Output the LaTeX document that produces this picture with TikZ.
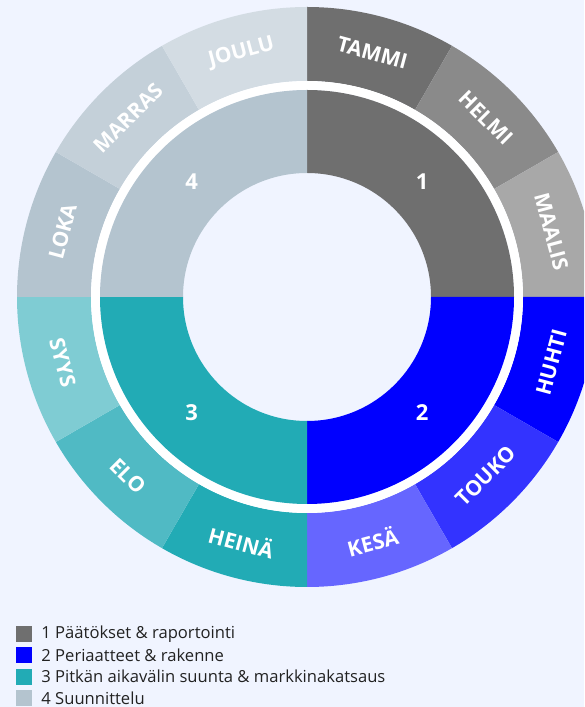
\documentclass[tikz,border=0pt]{standalone}
\usepackage{fontspec}
\setmainfont{Open Sans}
\usetikzlibrary{positioning,calc}

\definecolor{bgc}{HTML}{F0F4FF}
\definecolor{legc}{HTML}{222222}
\definecolor{q1}{HTML}{6F6F6F}
\definecolor{helmi}{HTML}{8A8A8A}
\definecolor{maalis}{HTML}{A8A8A8}
\definecolor{q2}{HTML}{0000FF}
\definecolor{touko}{HTML}{3333FF}
\definecolor{kesa}{HTML}{6666FF}
\definecolor{q3}{HTML}{22ABB5}
\definecolor{elo}{HTML}{50BAC4}
\definecolor{syys}{HTML}{7FCCD3}
\definecolor{q4}{HTML}{B4C4CF}
\definecolor{marras}{HTML}{C4D0D9}
\definecolor{joulu}{HTML}{D3DCE3}

\begin{document}
\begin{tikzpicture}[x=1pt, y=1pt,
  month/.style={text=white, font=\bfseries\fontsize{21}{21}\selectfont, inner sep=0pt},
  quarter/.style={text=white, font=\bfseries\fontsize{22}{22}\selectfont, inner sep=0pt},
  legbox/.style={minimum size=16pt, inner sep=0pt},
  legtext/.style={font=\fontsize{16.6}{17}\selectfont, text=legc, inner sep=0pt}]

\useasboundingbox (0,0) rectangle (584,707);
\fill[bgc] (0,0) rectangle (584,707);

\begin{scope}
\clip (0,0) rectangle (584,707);
\coordinate (O) at (307,410);

% months
\foreach \a/\c in {90/q1, 60/helmi, 30/maalis, 0/q2, -30/touko, -60/kesa,
                   -90/q3, -120/elo, -150/syys, 180/q4, 150/marras, 120/joulu}
  \fill[\c] (O) ++(\a:216) arc[start angle=\a, end angle=\a-30, radius=216]
    -- ++({\a-30}:74) arc[start angle=\a-30, end angle=\a, radius=290] -- cycle;

\fill[white, even odd rule] (O) circle[radius=216] (O) circle[radius=207];

% quarters
\foreach \a/\c in {90/q1, 0/q2, -90/q3, 180/q4}
  \fill[\c] (O) ++(\a:124) arc[start angle=\a, end angle=\a-90, radius=124]
    -- ++({\a-90}:83) arc[start angle=\a-90, end angle=\a, radius=207] -- cycle;
\end{scope}

\foreach \a/\t/\r [count=\i] in {75/TAMMI/-15, 45/HELMI/-45, 15/MAALIS/-75,
    -15/HUHTI/75, -45/TOUKO/45, -75/KESÄ/15, -105/HEINÄ/-15, -135/ELO/-45,
    -165/SYYS/-75, 165/LOKA/75, 135/MARRAS/45, 105/JOULU/15}
  \node[month, rotate=\r] (m\i) at ($(O)+(\a:253)$) {\t};

\node[quarter] (k1) at ($(O)+(45:163)$) {1};
\node[quarter] (k2) at ($(O)+(-45:163)$) {2};
\node[quarter] (k3) at ($(O)+(-135:163)$) {3};
\node[quarter] (k4) at ($(O)+(135:163)$) {4};

% legend
\node[legbox, fill=q1] (s1) at (24,73) {};
\node[legbox, fill=q2] (s2) at (24,51.7) {};
\node[legbox, fill=q3] (s3) at (24,30.4) {};
\node[legbox, fill=q4] (s4) at (24,9.1) {};

\node[legtext, right=9pt of s1] (t1) {1 Päätökset \& raportointi};
\node[legtext, right=9pt of s2] (t2) {2 Periaatteet \& rakenne};
\node[legtext, right=9pt of s3] (t3) {3 Pitkän aikavälin suunta \& markkinakatsaus};
\node[legtext, right=9pt of s4] (t4) {4 Suunnittelu};

\end{tikzpicture}
\end{document}
